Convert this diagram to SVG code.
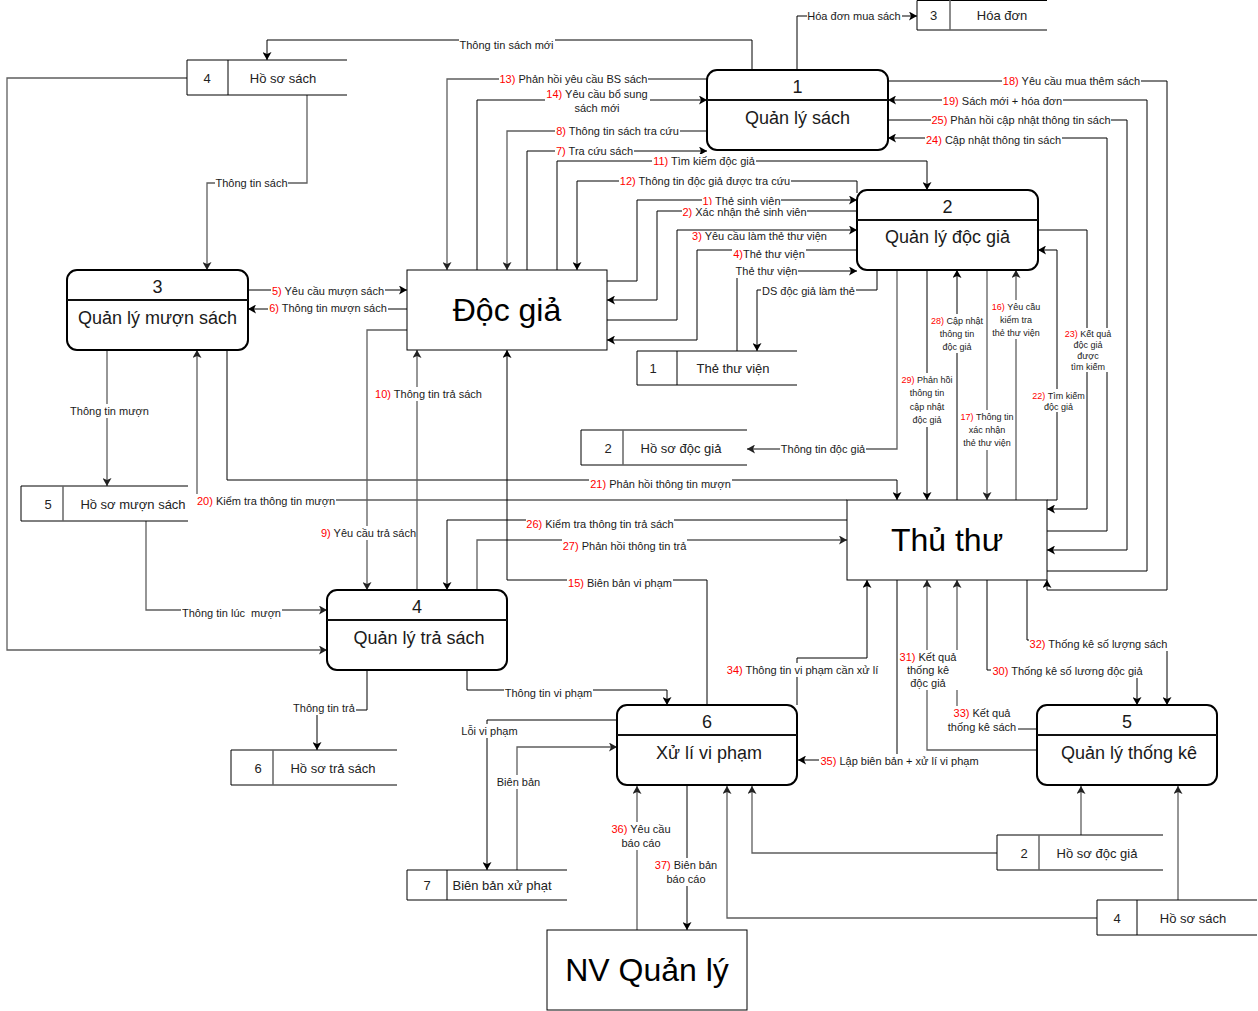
<svg xmlns="http://www.w3.org/2000/svg" width="1258" height="1011" viewBox="0 0 1258 1011">
<style>
text{font-family:"Liberation Sans",Arial,Helvetica,sans-serif;fill:#000}
.t{font-size:11px;text-anchor:middle;fill:#1a1a1a}
.sm{font-size:9px;text-anchor:middle;fill:#1a1a1a}
.r{fill:#f00}
.pn{font-size:18px;text-anchor:middle;fill:#1a1a1a}
.big{font-size:32px;text-anchor:middle}
.st{font-size:13px;text-anchor:middle;fill:#222}
.p{fill:#fff;stroke:#000;stroke-width:2}
.dv{stroke:#111;stroke-width:2}
.e{fill:#fff;stroke:#000;stroke-width:1}
.s{fill:none;stroke:#000;stroke-width:1}
.sd{stroke:#666;stroke-width:1.5}
.sb{stroke:#000;stroke-width:1}
.c{fill:none;stroke:#000;stroke-width:1;marker-end:url(#a)}
.g{fill:none;stroke:#5e5e5e;stroke-width:1.3;marker-end:url(#ag)}
.lb{fill:#fff}
</style>
<defs>
<marker id="a" viewBox="0 0 8 9" refX="8" refY="4.5" markerWidth="8" markerHeight="9" markerUnits="userSpaceOnUse" orient="auto"><path d="M0,0L8,4.5L0,9L2,4.5z" fill="#000"/></marker>
<marker id="ag" viewBox="0 0 8 9" refX="8" refY="4.5" markerWidth="8" markerHeight="9" markerUnits="userSpaceOnUse" orient="auto"><path d="M0,0L8,4.5L0,9L2,4.5z" fill="#222"/></marker>
</defs>
<rect width="1258" height="1011" fill="#fff"/>
<g id="connectors">
<path class="c" d="M752,70V40H267V60"/>
<path class="c" d="M797,70V16H917"/>
<path class="g" d="M707,79H447V270"/>
<path class="c" d="M477,270V100H707"/>
<path class="g" d="M707,131H507V270"/>
<path class="c" d="M527,270V151H707"/>
<path class="c" d="M557,270V161H927V190"/>
<path class="c" d="M857,193V181H577V270"/>
<path class="c" d="M607,281H637V200H857"/>
<path class="c" d="M857,211H657V300H607"/>
<path class="c" d="M607,320H677V230H857"/>
<path class="c" d="M857,250H697V340H607"/>
<path class="c" d="M737,351V271H857"/>
<path class="c" d="M877,270V290H757V351"/>
<path class="c" d="M248,290H407"/>
<path class="c" d="M407,309H248"/>
<path class="g" d="M307,95V183H207V270"/>
<path class="g" d="M187,78H7V650H327"/>
<path class="c" d="M888,81H1167V590H1047V580"/>
<path class="c" d="M1047,571H1147V100H888"/>
<path class="c" d="M888,120H1127V550H1047"/>
<path class="c" d="M1047,531H1107V138H888"/>
<path class="c" d="M1038,230H1087V509H1047"/>
<path class="c" d="M1047,500H1057V250H1038"/>
<path class="g" d="M897,270V449H747"/>
<path class="c" d="M927,270V500"/>
<path class="c" d="M957,500V270"/>
<path class="g" d="M987,270V500"/>
<path class="g" d="M1016,500V270"/>
<path class="c" d="M227,350V480H897V500"/>
<path class="g" d="M847,500H197V350"/>
<path class="c" d="M847,520H447V590"/>
<path class="g" d="M477,590V540H847"/>
<path class="c" d="M707,705V580H507V350"/>
<path class="g" d="M417,590V350"/>
<path class="g" d="M407,330H367V590"/>
<path class="g" d="M107,350V486"/>
<path class="g" d="M146,521V610H327"/>
<path class="c" d="M367,670V710H317V750"/>
<path class="c" d="M467,670V690H667V705"/>
<path class="c" d="M617,720H487V870"/>
<path class="g" d="M517,870V747H617"/>
<path class="g" d="M637,930V786"/>
<path class="c" d="M687,786V930"/>
<path class="c" d="M897,580V760H798"/>
<path class="c" d="M797,705V658H867V580"/>
<path class="g" d="M1037,750H927V580"/>
<path class="g" d="M1037,729H957V580"/>
<path class="c" d="M987,580V670H1137V705"/>
<path class="c" d="M1027,580V640H1167V705"/>
<path class="g" d="M997,853H752V786"/>
<path class="g" d="M1081,835V786"/>
<path class="g" d="M1097,918H727V786"/>
<path class="g" d="M1178,900V786"/>
<g id="labels">
<rect class="lb" x="459" y="38" width="96" height="14"/><text class="t" x="506.5" y="49">Thông tin sách mới</text>
<rect class="lb" x="807" y="9" width="95" height="14"/><text class="t" x="854" y="20">Hóa đơn mua sách</text>
<rect class="lb" x="499" y="72" width="149" height="14"/><text class="t" x="573.5" y="83"><tspan class="r">13)</tspan> Phản hồi yêu cầu BS sách</text>
<rect class="lb" x="545" y="87" width="105" height="28"/><text class="t" x="597" y="98"><tspan class="r">14)</tspan> Yêu cầu bổ sung</text><text class="t" x="597" y="112">sách mới</text>
<rect class="lb" x="555" y="124" width="125" height="14"/><text class="t" x="617.5" y="135"><tspan class="r">8)</tspan> Thông tin sách tra cứu</text>
<rect class="lb" x="555" y="144" width="79" height="14"/><text class="t" x="594.5" y="155"><tspan class="r">7)</tspan> Tra cứu sách</text>
<rect class="lb" x="652" y="154" width="104" height="14"/><text class="t" x="704" y="165"><tspan class="r">11)</tspan> Tìm kiếm độc giả</text>
<rect class="lb" x="619" y="174" width="172" height="14"/><text class="t" x="705" y="185"><tspan class="r">12)</tspan> Thông tin độc giả được tra cứu</text>
<rect class="lb" x="702" y="194" width="79" height="14"/><text class="t" x="741.5" y="205"><tspan class="r">1)</tspan> Thẻ sinh viên</text>
<rect class="lb" x="682" y="205" width="125" height="14"/><text class="t" x="744.5" y="216"><tspan class="r">2)</tspan> Xác nhận thẻ sinh viên</text>
<rect class="lb" x="691" y="231" width="137" height="12"/><text class="t" x="759.5" y="240"><tspan class="r">3)</tspan> Yêu cầu làm thẻ thư viện</text>
<rect class="lb" x="732" y="247" width="74" height="14"/><text class="t" x="769" y="258"><tspan class="r">4)</tspan>Thẻ thư viện</text>
<rect class="lb" x="735" y="264" width="63" height="14"/><text class="t" x="766.5" y="275">Thẻ thư viện</text>
<rect class="lb" x="761" y="284" width="95" height="14"/><text class="t" x="808.5" y="295">DS độc giả làm thẻ</text>
<rect class="lb" x="271" y="284" width="114" height="14"/><text class="t" x="328" y="295"><tspan class="r">5)</tspan> Yêu cầu mượn sách</text>
<rect class="lb" x="268" y="301" width="120" height="14"/><text class="t" x="328" y="312"><tspan class="r">6)</tspan> Thông tin mượn sách</text>
<rect class="lb" x="215" y="176" width="73" height="14"/><text class="t" x="251.5" y="187">Thông tin sách</text>
<rect class="lb" x="1002" y="74" width="139" height="14"/><text class="t" x="1071.5" y="85"><tspan class="r">18)</tspan> Yêu cầu mua thêm sách</text>
<rect class="lb" x="942" y="94" width="121" height="14"/><text class="t" x="1002.5" y="105"><tspan class="r">19)</tspan> Sách mới + hóa đơn</text>
<rect class="lb" x="931" y="113" width="180" height="14"/><text class="t" x="1021" y="124"><tspan class="r">25)</tspan> Phản hồi cập nhật thông tin sách</text>
<rect class="lb" x="925" y="133" width="137" height="14"/><text class="t" x="993.5" y="144"><tspan class="r">24)</tspan> Cập nhật thông tin sách</text>
<rect class="lb" x="780" y="442" width="86" height="14"/><text class="t" x="823" y="453">Thông tin độc giả</text>
<rect class="lb" x="374" y="387" width="109" height="14"/><text class="t" x="428.5" y="398"><tspan class="r">10)</tspan> Thông tin trả sách</text>
<rect class="lb" x="69" y="404" width="81" height="14"/><text class="t" x="109.5" y="415">Thông tin mượn</text>
<rect class="lb" x="589" y="477" width="143" height="14"/><text class="t" x="660.5" y="488"><tspan class="r">21)</tspan> Phản hồi thông tin mượn</text>
<rect class="lb" x="196" y="494" width="140" height="14"/><text class="t" x="266" y="505"><tspan class="r">20)</tspan> Kiểm tra thông tin mượn</text>
<rect class="lb" x="320" y="526" width="96" height="14"/><text class="t" x="368.5" y="537"><tspan class="r">9)</tspan> Yêu cầu trả sách</text>
<rect class="lb" x="526" y="517" width="148" height="14"/><text class="t" x="600" y="528"><tspan class="r">26)</tspan> Kiểm tra thông tin trả sách</text>
<rect class="lb" x="562" y="539" width="125" height="14"/><text class="t" x="624.5" y="550"><tspan class="r">27)</tspan> Phản hồi thông tin trả</text>
<rect class="lb" x="567" y="576" width="106" height="14"/><text class="t" x="620" y="587"><tspan class="r">15)</tspan> Biên bản vi phạm</text>
<rect class="lb" x="181" y="606" width="101" height="14"/><text class="t" x="231.5" y="617" xml:space="preserve">Thông tin lúc  mượn</text>
<rect class="lb" x="726" y="663" width="153" height="14"/><text class="t" x="802.5" y="674"><tspan class="r">34)</tspan> Thông tin vi phạm cần xử lí</text>
<rect class="lb" x="1029" y="637" width="139" height="14"/><text class="t" x="1098.5" y="648"><tspan class="r">32)</tspan> Thống kê số lượng sách</text>
<rect class="lb" x="991" y="664" width="153" height="14"/><text class="t" x="1067.5" y="675"><tspan class="r">30)</tspan> Thống kê số lương độc giả</text>
<rect class="lb" x="504" y="686" width="89" height="14"/><text class="t" x="548.5" y="697">Thông tin vi phạm</text>
<rect class="lb" x="292" y="701" width="64" height="14"/><text class="t" x="324" y="712">Thông tin trả</text>
<rect class="lb" x="460" y="724" width="59" height="14"/><text class="t" x="489.5" y="735">Lỗi vi phạm</text>
<rect class="lb" x="819" y="754" width="161" height="14"/><text class="t" x="899.5" y="765"><tspan class="r">35)</tspan> Lập biên bản + xử lí vi phạm</text>
<rect class="lb" x="496" y="775" width="45" height="14"/><text class="t" x="518.5" y="786">Biên bản</text>
<rect class="lb" x="611" y="822" width="61" height="28"/><text class="t" x="641" y="833"><tspan class="r">36)</tspan> Yêu cầu</text><text class="t" x="641" y="847">báo cáo</text>
<rect class="lb" x="654" y="858" width="65" height="28"/><text class="t" x="686" y="869"><tspan class="r">37)</tspan> Biên bản</text><text class="t" x="686" y="883">báo cáo</text>
<rect class="lb" x="898" y="650" width="61" height="40"/><text class="t" x="928" y="661"><tspan class="r">31)</tspan> Kết quả</text><text class="t" x="928" y="674">thống kê</text><text class="t" x="928" y="687">độc giả</text>
<rect class="lb" x="947" y="706" width="71" height="29"/><text class="t" x="982" y="717"><tspan class="r">33)</tspan> Kết quả</text><text class="t" x="982" y="731">thống kê sách</text>
<rect class="lb" x="900" y="373" width="54" height="54"/><text class="sm" x="927" y="383"><tspan class="r">29)</tspan> Phản hồi</text><text class="sm" x="927" y="396">thông tin</text><text class="sm" x="927" y="410">cập nhật</text><text class="sm" x="927" y="423">độc giả</text>
<rect class="lb" x="930" y="314" width="54" height="39"/><text class="sm" x="957" y="324"><tspan class="r">28)</tspan> Cập nhật</text><text class="sm" x="957" y="337">thông tin</text><text class="sm" x="957" y="350">độc giả</text>
<rect class="lb" x="959" y="410" width="55" height="40"/><text class="sm" x="987" y="420"><tspan class="r">17)</tspan> Thông tin</text><text class="sm" x="987" y="433">xác nhận</text><text class="sm" x="987" y="446">thẻ thư viện</text>
<rect class="lb" x="991" y="300" width="51" height="39"/><text class="sm" x="1016" y="310"><tspan class="r">16)</tspan> Yêu cầu</text><text class="sm" x="1016" y="323">kiểm tra</text><text class="sm" x="1016" y="336">thẻ thư viện</text>
<rect class="lb" x="1063" y="328" width="49" height="44"/><text class="sm" x="1088" y="337"><tspan class="r">23)</tspan> Kết quả</text><text class="sm" x="1088" y="348">độc giả</text><text class="sm" x="1088" y="359">được</text><text class="sm" x="1088" y="370">tìm kiếm</text>
<rect class="lb" x="1032" y="389" width="54" height="23"/><text class="sm" x="1058.5" y="399"><tspan class="r">22)</tspan> Tìm kiếm</text><text class="sm" x="1058.5" y="410">độc giả</text>
</g>
</g>
<g id="p1"><rect class="p" x="707" y="70" width="181" height="80" rx="10"/><line class="dv" x1="707" y1="100" x2="888" y2="100"/><text class="pn" x="797.5" y="93">1</text><text class="pn" x="797.5" y="124">Quản lý sách</text></g>
<g id="p2"><rect class="p" x="857" y="190" width="181" height="80" rx="10"/><line class="dv" x1="857" y1="220" x2="1038" y2="220"/><text class="pn" x="947.5" y="213">2</text><text class="pn" x="947.5" y="243">Quản lý độc giả</text></g>
<g id="p3"><rect class="p" x="67" y="270" width="181" height="80" rx="10"/><line class="dv" x1="67" y1="300" x2="248" y2="300"/><text class="pn" x="157.5" y="293">3</text><text class="pn" x="157.5" y="324">Quản lý mượn sách</text></g>
<g id="p4"><rect class="p" x="327" y="590" width="180" height="80" rx="10"/><line class="dv" x1="327" y1="620" x2="507" y2="620"/><text class="pn" x="417" y="613">4</text><text class="pn" x="419" y="644">Quản lý trả sách</text></g>
<g id="p6"><rect class="p" x="617" y="705" width="180" height="80" rx="10"/><line class="dv" x1="617" y1="735" x2="797" y2="735"/><text class="pn" x="707" y="728">6</text><text class="pn" x="709" y="759">Xử lí vi phạm</text></g>
<g id="p5"><rect class="p" x="1037" y="705" width="180" height="80" rx="10"/><line class="dv" x1="1037" y1="735" x2="1217" y2="735"/><text class="pn" x="1127" y="728">5</text><text class="pn" x="1129" y="759">Quản lý thống kê</text></g>
<g id="docgia"><rect class="e" x="407" y="270" width="200" height="80"/><text class="big" x="507" y="321">Độc giả</text></g>
<g id="thuthu"><rect class="e" x="847" y="500" width="200" height="80"/><text class="big" x="947" y="551">Thủ thư</text></g>
<g id="nvquanly"><rect class="e" x="547" y="930" width="200" height="80"/><text class="big" x="647" y="981">NV Quản lý</text></g>
<g id="s3"><path class="s" d="M1047,0.5H917V30H1047"/><line class="sd" x1="950" y1="0" x2="950" y2="30"/><text class="st" x="933.5" y="19.5">3</text><text class="st" x="1002" y="19.5">Hóa đơn</text></g>
<g id="s4a"><path class="s" d="M347,60H187V95H347"/><line class="sb" x1="228" y1="60" x2="228" y2="95"/><text class="st" x="207" y="82.5">4</text><text class="st" x="283" y="82.5">Hồ sơ sách</text></g>
<g id="s5"><path class="s" d="M188,486H21V521H188"/><line class="sd" x1="63" y1="486" x2="63" y2="521"/><text class="st" x="48" y="508.5">5</text><text class="st" x="133" y="508.5">Hồ sơ mượn sách</text></g>
<g id="s1"><path class="s" d="M797,351H637V385H797"/><line class="sb" x1="677" y1="351" x2="677" y2="385"/><text class="st" x="653" y="372.5">1</text><text class="st" x="733" y="372.5">Thẻ thư viện</text></g>
<g id="s2a"><path class="s" d="M747,430H581V465H747"/><line class="sd" x1="623" y1="430" x2="623" y2="465"/><text class="st" x="608" y="452.5">2</text><text class="st" x="681" y="452.5">Hồ sơ độc giả</text></g>
<g id="s6"><path class="s" d="M397,750H231V785H397"/><line class="sd" x1="273" y1="750" x2="273" y2="785"/><text class="st" x="258" y="772.5">6</text><text class="st" x="333" y="772.5">Hồ sơ trả sách</text></g>
<g id="s7"><path class="s" d="M567,870H407V900H567"/><line class="sb" x1="447" y1="870" x2="447" y2="900"/><text class="st" x="427" y="889.5">7</text><text class="st" x="502" y="889.5">Biên bản xử phạt</text></g>
<g id="s2b"><path class="s" d="M1163,835H997V870H1163"/><line class="sd" x1="1039" y1="835" x2="1039" y2="870"/><text class="st" x="1024" y="857.5">2</text><text class="st" x="1097" y="857.5">Hồ sơ độc giả</text></g>
<g id="s4b"><path class="s" d="M1257,900H1097V935H1257"/><line class="sb" x1="1137" y1="900" x2="1137" y2="935"/><text class="st" x="1117" y="922.5">4</text><text class="st" x="1193" y="922.5">Hồ sơ sách</text></g>
</svg>
